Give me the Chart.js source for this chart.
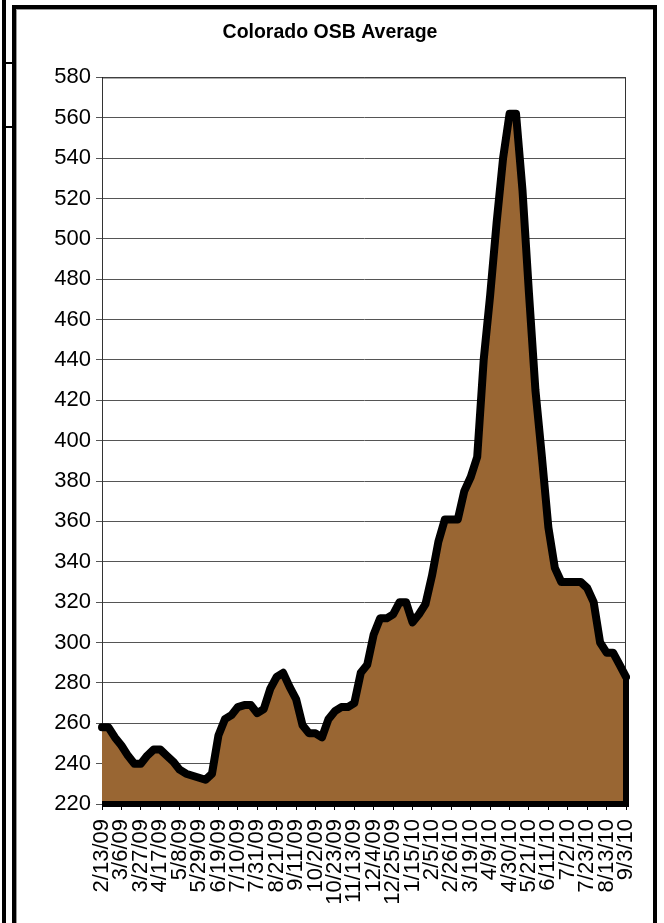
<!DOCTYPE html>
<html>
<head>
<meta charset="utf-8">
<script src="https://cdn.jsdelivr.net/npm/chart.js@4.4.0/dist/chart.umd.min.js"></script>
<style>
  body { margin: 0; background: #fff; width: 664px; height: 923px; overflow: hidden; position: relative; }
  #leftbar { position: absolute; left: 2px; top: 0; width: 4px; height: 923px; background: #000; }
  .stub { position: absolute; left: 6px; width: 7px; height: 2px; background: #000; }
  #frame { position: absolute; left: 12px; top: 5px; width: 637px; height: 940px; border: 4px solid #000; box-shadow: inset 1px 1px 0 #999; }
  #wrap { position: absolute; left: 16px; top: 9px; width: 636px; height: 914px; }
</style>
</head>
<body>
<div id="leftbar"></div>
<div class="stub" style="top:62px"></div>
<div class="stub" style="top:126px"></div>
<div id="frame"></div>
<div id="wrap"><canvas id="osb"></canvas></div>
<script>
// weekly dates (Fridays)
let weeks = [
  "2/13/09", "2/20/09", "2/27/09", "3/6/09", "3/13/09", "3/20/09", "3/27/09",
  "4/3/09", "4/10/09", "4/17/09", "4/24/09", "5/1/09", "5/8/09", "5/15/09",
  "5/22/09", "5/29/09", "6/5/09", "6/12/09", "6/19/09", "6/26/09", "7/3/09",
  "7/10/09", "7/17/09", "7/24/09", "7/31/09", "8/7/09", "8/14/09", "8/21/09",
  "8/28/09", "9/4/09", "9/11/09", "9/18/09", "9/25/09", "10/2/09", "10/9/09",
  "10/16/09", "10/23/09", "10/30/09", "11/6/09", "11/13/09", "11/20/09", "11/27/09",
  "12/4/09", "12/11/09", "12/18/09", "12/25/09", "1/1/10", "1/8/10", "1/15/10",
  "1/22/10", "1/29/10", "2/5/10", "2/12/10", "2/19/10", "2/26/10", "3/5/10",
  "3/12/10", "3/19/10", "3/26/10", "4/2/10", "4/9/10", "4/16/10", "4/23/10",
  "4/30/10", "5/7/10", "5/14/10", "5/21/10", "5/28/10", "6/4/10", "6/11/10",
  "6/18/10", "6/25/10", "7/2/10", "7/9/10", "7/16/10", "7/23/10", "7/30/10",
  "8/6/10", "8/13/10", "8/20/10", "8/27/10", "9/3/10",
];
// OSB average price per week
let prices = [
  258, 258, 253, 249, 244, 240, 240, 244, 247, 247,
  244, 241, 237, 235, 234, 233, 232, 235, 254, 262,
  264, 268, 269, 269, 265, 267, 277, 283, 285, 278,
  272, 259, 255, 255, 253, 262, 266, 268, 268, 270,
  285, 289, 304, 312, 312, 314, 320, 320, 310, 314,
  319, 333, 350, 361, 361, 361, 375, 382, 392, 440,
  472, 508, 540, 562, 562, 524, 473, 425, 392, 357,
  337, 330, 330, 330, 330, 327, 320, 300, 295, 295,
  289, 283,
];
let yMin = 220;
let yMax = 580;
let yStep = 20;
let labelEvery = 3; //only every third week gets a label

const font = "'Liberation Sans', Arial, sans-serif";

// closes the area outline along the bottom and right side like excel does
const closeArea = {
  id: "closeArea",
  afterDatasetsDraw(chart) {
    const pts = chart.getDatasetMeta(0).data;
    const first = pts[0];
    const last = pts[pts.length - 1];
    const base = chart.scales.y.getPixelForValue(yMin);
    const c = chart.ctx;
    c.save();
    c.strokeStyle = "#000";
    c.lineWidth = 6;
    c.lineJoin = "miter";
    c.beginPath();
    c.moveTo(last.x, last.y);
    c.lineTo(last.x, base);
    c.lineTo(first.x, base);
    c.stroke();
    c.restore();
  },
  beforeDatasetsDraw(chart) {
    const a = chart.chartArea;
    const c = chart.ctx;
    c.save();
    c.strokeStyle = "#333";
    c.lineWidth = 1;
    c.strokeRect(a.left + 0.5, a.top + 0.5, a.right - a.left - 1, a.bottom - a.top);
    c.restore();
  },
};

new Chart("osb", {
  type: "line",
  data: {
    labels: weeks,
    datasets: [
      {
        data: prices,
        backgroundColor: "#996633",
        borderColor: "#000",
        borderWidth: 8,
        borderJoinStyle: "round",
        borderCapStyle: "round",
        pointRadius: 0,
        tension: 0,
        fill: "start",
      },
    ],
  },
  options: {
    responsive: true,
    maintainAspectRatio: false,
    animation: false,
    layout: { padding: { left: 0, right: 8, top: 0, bottom: 0 } },
    plugins: {
      legend: { display: false },
      tooltip: { enabled: false },
      title: {
        display: true,
        text: "Colorado OSB Average",
        color: "#000",
        font: { family: font, size: 19.5, weight: "bold" },
        padding: { top: 12, bottom: 33 },
      },
    },
    scales: {
      x: {
        type: "category",
        offset: false,
        afterBuildTicks: (axis) => {
          axis.ticks = axis.ticks.filter((t, i) => i % labelEvery === 0);
        },
        afterFit: (axis) => {
          axis.height = 119;
          axis.paddingLeft = 0;
          axis.paddingRight = 26;
        },
        grid: { drawOnChartArea: false, color: "#000", tickLength: 6 },
        border: { display: false },
        ticks: {
          autoSkip: false,
          minRotation: 90,
          maxRotation: 90,
          padding: 9,
          color: "#000",
          font: { family: font, size: 22 },
        },
      },
      y: {
        min: yMin,
        max: yMax,
        afterFit: (axis) => {
          axis.width = 86;
          axis.paddingTop = 0;
          axis.paddingBottom = 0;
        },
        grid: { color: "#555", lineWidth: 1, tickLength: 6 },
        border: { color: "#000", width: 1 },
        ticks: {
          stepSize: yStep,
          padding: 5,
          color: "#000",
          font: { family: font, size: 22 },
        },
      },
    },
  },
  plugins: [closeArea],
});
</script>
</body>
</html>
